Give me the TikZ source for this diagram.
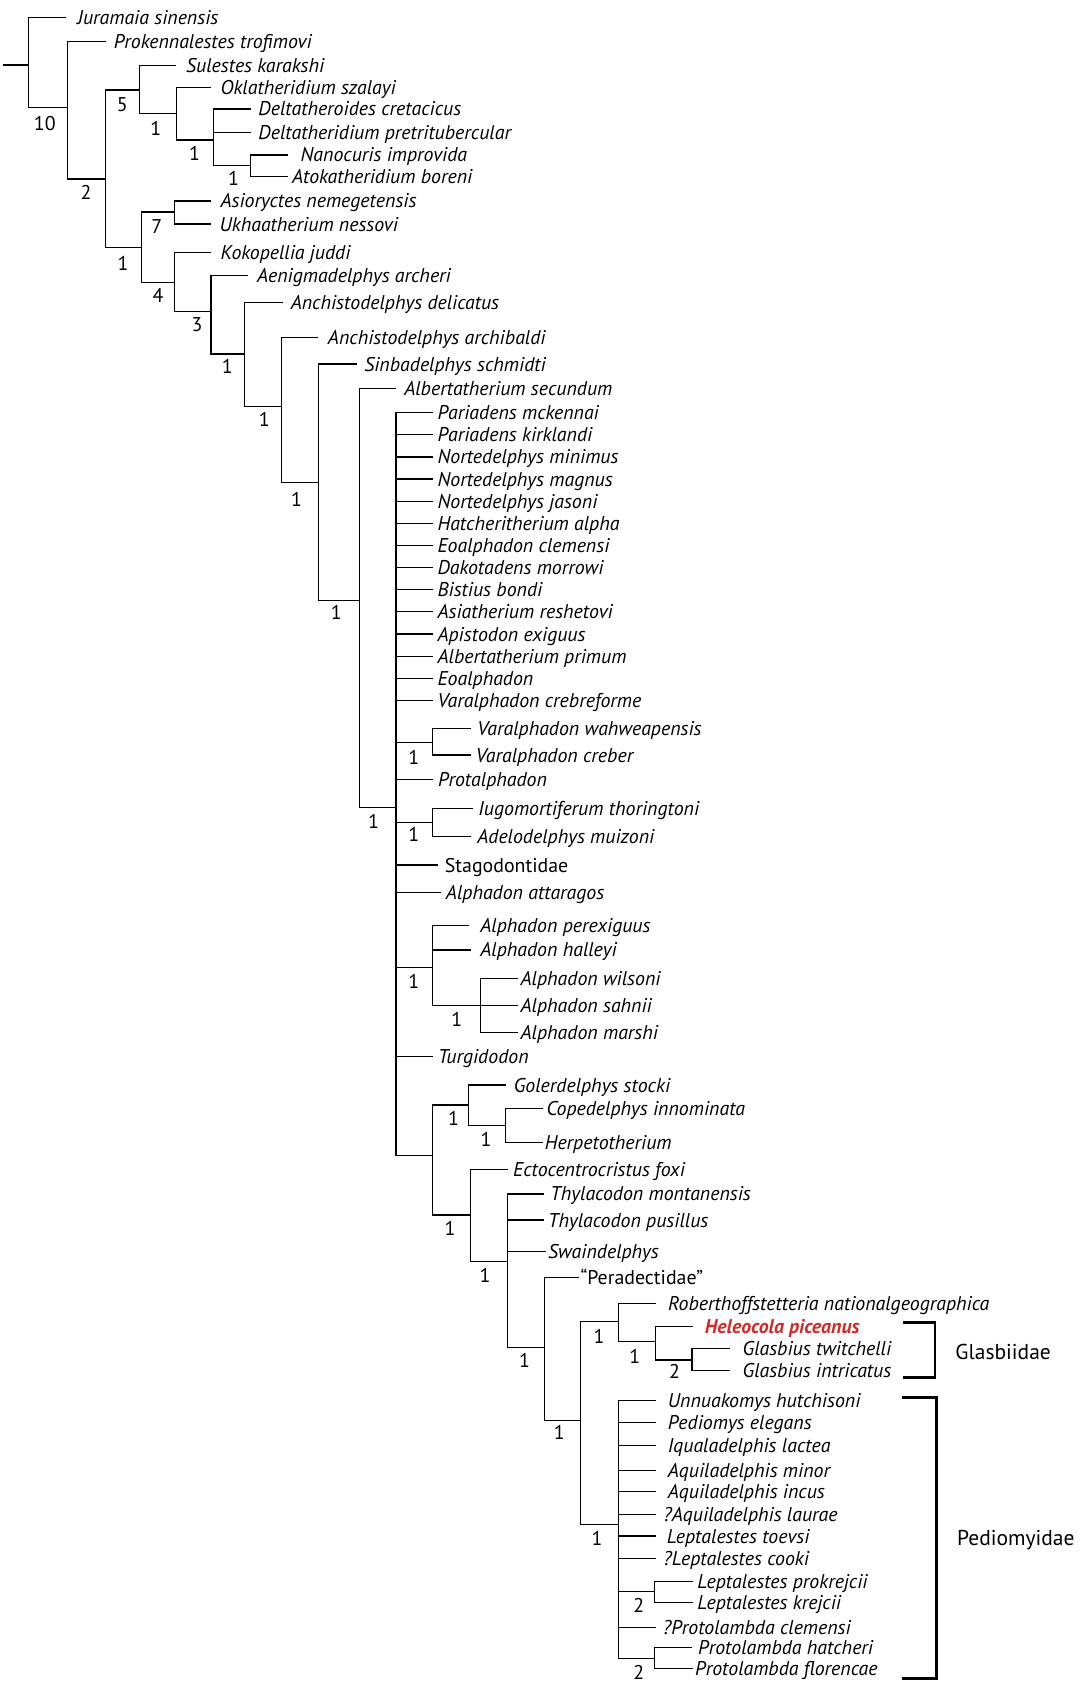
\documentclass[tikz,border=0pt]{standalone}
\usepackage{fontspec}
\setmainfont{PT Sans}
\definecolor{heleo}{RGB}{214,40,40}
\tikzset{
 br/.style={line width=1.1pt, line cap=rect, line join=miter},
 leaf/.style={anchor=west, inner ysep=0pt, text height=13pt, text depth=0pt, font=\fontsize{18.5}{21}\selectfont\itshape},
 leafup/.style={leaf, font=\fontsize{18.5}{21}\selectfont\upshape},
 supp/.style={inner sep=0pt, text height=13pt, text depth=0pt, font=\fontsize{18.5}{21}\selectfont},
 cladebr/.style={line width=2.6pt, line join=miter},
 cladelab/.style={anchor=west, inner sep=0pt, text height=14pt, text depth=0pt, font=\fontsize{20}{22}\selectfont}
}
\begin{document}
\begin{tikzpicture}[x=1pt,y=-1pt]
\useasboundingbox (0,0) rectangle (1005,1568);
% internal nodes
\coordinate (stub) at (3.8,60.5);
\coordinate (root) at (26.3,60.5);
\coordinate (B) at (62.5,99.9);
\coordinate (C) at (97.8,166.6);
\coordinate (D) at (129.8,83.8);
\coordinate (E) at (164.4,105.5);
\coordinate (F) at (198.7,130.3);
\coordinate (G) at (233.3,154.2);
\coordinate (H) at (132,230.5);
\coordinate (As) at (162.5,197.3);
\coordinate (I) at (162.6,263);
\coordinate (J) at (196.4,290);
\coordinate (K) at (227.9,329.5);
\coordinate (L) at (262,378.5);
\coordinate (M) at (296,448.9);
\coordinate (N) at (334.3,559);
\coordinate (O) at (368.5,751.3);
\coordinate (Va) at (402.6,691);
\coordinate (Iu) at (402.6,765.5);
\coordinate (Al) at (402.6,900.5);
\coordinate (Aw) at (446.8,936);
\coordinate (P) at (402.8,1075);
\coordinate (Q) at (436.3,1028.3);
\coordinate (R) at (470.6,1047);
\coordinate (S) at (437.5,1130.7);
\coordinate (T) at (472.1,1174);
\coordinate (U) at (506.8,1253.8);
\coordinate (V) at (540.4,1322);
\coordinate (W) at (575.7,1230);
\coordinate (X) at (610.3,1248.6);
\coordinate (Y) at (644,1265.6);
\coordinate (Z) at (575.5,1419);
\coordinate (Lp) at (609.2,1481.2);
\coordinate (Pr) at (609.2,1543.2);
% leaves
\node[leaf,inner xsep=11pt] (jur) at (60.9,16.4) {Juramaia sinensis};
\node[leaf,inner xsep=8pt] (pro) at (97.8,38.8) {Prokennalestes trofimovi};
\node[leaf,inner xsep=9.5pt] (sul) at (163.5,61.1) {Sulestes karakshi};
\node[leaf,inner xsep=9.6pt] (okl) at (195.5,81.6) {Oklatheridium szalayi};
\node[leaf,inner xsep=7pt] (dcr) at (233.3,101.4) {Deltatheroides cretacicus};
\node[leaf,inner xsep=7pt] (dpr) at (233.3,123.5) {Deltatheridium pretritubercular};
\node[leaf,inner xsep=12pt] (nan) at (267.6,144.2) {Nanocuris improvida};
\node[leaf,inner xsep=4pt] (ato) at (267.6,164.4) {Atokatheridium boreni};
\node[leaf,inner xsep=9.6pt] (asi) at (195.5,187) {Asioryctes nemegetensis};
\node[leaf,inner xsep=8.7pt] (ukh) at (195.5,208.5) {Ukhaatherium nessovi};
\node[leaf,inner xsep=9.6pt] (kok) at (195.5,234.8) {Kokopellia juddi};
\node[leaf,inner xsep=8.5pt] (aen) at (230.5,256.6) {Aenigmadelphys archeri};
\node[leaf,inner xsep=7.6pt] (and) at (262.8,281.4) {Anchistodelphys delicatus};
\node[leaf,inner xsep=9.5pt] (ana) at (295.5,314.3) {Anchistodelphys archibaldi};
\node[leaf,inner xsep=7.2pt] (sin) at (331.6,338.8) {Sinbadelphys schmidti};
\node[leaf,inner xsep=8.4pt] (als) at (367.6,361.4) {Albertatherium secundum};
\foreach \n/\yy/\t in {o1/384.0/Pariadens mckennai, o2/404.6/Pariadens kirklandi, o3/425.2/Nortedelphys minimus, o4/445.8/Nortedelphys magnus, o5/466.4/Nortedelphys jasoni, o6/487.0/Hatcheritherium alpha, o7/507.6/Eoalphadon clemensi, o8/528.2/Dakotadens morrowi, o9/548.8/Bistius bondi, o10/569.4/Asiatherium reshetovi, o11/590.0/Apistodon exiguus, o12/610.6/Albertatherium primum, o13/631.2/Eoalphadon, o14/651.8/Varalphadon crebreforme}
  {\node[leaf,inner xsep=5pt] (\n) at (402,\yy) {\t};}
\node[leaf,inner xsep=6.2pt] (vwa) at (437.8,677.8) {Varalphadon wahweapensis};
\node[leaf,inner xsep=4.8pt] (vcr) at (437.8,702.6) {Varalphadon creber};
\node[leaf,inner xsep=4.8pt] (ptl) at (402.6,725) {Protalphadon};
\node[leaf,inner xsep=5.5pt] (iug) at (439.5,752) {Iugomortiferum thoringtoni};
\node[leaf,inner xsep=6.2pt] (ade) at (437.8,778.6) {Adelodelphys muizoni};
\node[leafup,inner xsep=6.4pt] (sta) at (407.4,805) {Stagodontidae};
\node[leaf,inner xsep=5.1pt] (aat) at (409.7,830.7) {Alphadon attaragos};
\node[leaf,inner xsep=10.5pt] (ape) at (436.3,861.4) {Alphadon perexiguus};
\node[leaf,inner xsep=8.9pt] (aha) at (437.9,884) {Alphadon halleyi};
\node[leaf,inner xsep=3.2pt] (awi) at (481.1,910.4) {Alphadon wilsoni};
\node[leaf,inner xsep=3.2pt] (asa) at (481.1,936) {Alphadon sahnii};
\node[leaf,inner xsep=3.2pt] (ama) at (481.1,961) {Alphadon marshi};
\node[leaf,inner xsep=4.8pt] (tur) at (402.6,983.3) {Turgidodon};
\node[leaf,inner xsep=8pt] (gol) at (470,1009.7) {Golerdelphys stocki};
\node[leaf,inner xsep=3.2pt] (cop) at (505.2,1031.4) {Copedelphys innominata};
\node[leaf,inner xsep=1.6pt] (her) at (505.2,1063.4) {Herpetotherium};
\node[leaf,inner xsep=5.3pt] (ect) at (472,1088.2) {Ectocentrocristus foxi};
\node[leaf,inner xsep=6.5pt] (tmo) at (505.5,1111) {Thylacodon montanensis};
\node[leaf,inner xsep=4.3pt] (tpu) at (505.5,1135.3) {Thylacodon pusillus};
\node[leaf,inner xsep=2.2pt] (swa) at (507.6,1164.8) {Swaindelphys};
\node[leafup,inner xsep=2pt] (per) at (538,1189) {“Peradectidae”};
\node[leaf,inner xsep=11.3pt] (rob) at (610.3,1213) {Roberthoffstetteria nationalgeographica};
\node[leaf,inner xsep=11.8pt,text=heleo,font=\fontsize{18.5}{21}\selectfont\bfseries\itshape] (hel) at (644,1234) {Heleocola piceanus};
\node[leaf,inner xsep=12.1pt] (gtw) at (678.8,1254.8) {Glasbius twitchelli};
\node[leaf,inner xsep=12.1pt] (gin) at (678.8,1275) {Glasbius intricatus};
\node[leaf,inner xsep=11.4pt] (unn) at (609.9,1303.4) {Unnuakomys hutchisoni};
\node[leaf,inner xsep=11.4pt] (ped) at (609.9,1323.9) {Pediomys elegans};
\node[leaf,inner xsep=11.4pt] (iqu) at (609.9,1345.3) {Iqualadelphis lactea};
\node[leaf,inner xsep=11.4pt] (aqm) at (609.9,1368) {Aquiladelphis minor};
\node[leaf,inner xsep=11.4pt] (aqi) at (609.9,1388) {Aquiladelphis incus};
\node[leaf,inner xsep=7.5pt] (aql) at (609.9,1409) {?Aquiladelphis laurae};
\node[leaf,inner xsep=10.4pt] (lto) at (609.9,1429.4) {Leptalestes toevsi};
\node[leaf,inner xsep=7.5pt] (lco) at (609.9,1450.2) {?Leptalestes cooki};
\node[leaf,inner xsep=4.5pt] (lpk) at (644.3,1471.9) {Leptalestes prokrejcii};
\node[leaf,inner xsep=4.5pt] (lkr) at (644.3,1491.4) {Leptalestes krejcii};
\node[leaf,inner xsep=6.9pt] (pcl) at (609.9,1514.7) {?Protolambda clemensi};
\node[leaf,inner xsep=5.9pt] (pha) at (643.6,1533) {Protolambda hatcheri};
\node[leaf,inner xsep=2.4pt] (pfl) at (644.3,1552.5) {Protolambda florencae};
% branches, drawn as one path so overlaps are stroked once
\draw[br] (stub) -- (root)
  foreach \a/\b in {root/jur.west, root/B, B/pro.west, B/C, C/D, C/H, D/sul.west, D/E, E/okl.west, E/F,
  F/dcr.west, F/dpr.west, F/G, G/nan.west, G/ato.west, H/As, H/I, As/asi.west, As/ukh.west,
  I/kok.west, I/J, J/aen.west, J/K, K/and.west, K/L, L/ana.west, L/M, M/sin.west, M/N,
  N/als.west, N/O, O/Va, O/ptl.west, O/Iu, O/sta.west, O/aat.west, O/Al, O/tur.west, O/P,
  Va/vwa.west, Va/vcr.west, Iu/iug.west, Iu/ade.west, Al/ape.west, Al/aha.west, Al/Aw,
  Aw/awi.west, Aw/asa.west, Aw/ama.west, P/Q, P/S, Q/gol.west, Q/R, R/cop.west, R/her.west,
  S/ect.west, S/T, T/tmo.west, T/tpu.west, T/swa.west, T/U, U/per.west, U/V, V/W, V/Z,
  W/rob.west, W/X, X/hel.west, X/Y, Y/gtw.west, Y/gin.west,
  Z/unn.west, Z/ped.west, Z/iqu.west, Z/aqm.west, Z/aqi.west, Z/aql.west, Z/lto.west, Z/lco.west,
  Z/Lp, Z/pcl.west, Z/Pr, Lp/lpk.west, Lp/lkr.west, Pr/pha.west, Pr/pfl.west}
  {(\a) |- (\b)}
  foreach \k in {1,...,14} {(O) |- (o\k.west)};
% support values
\node[supp] (sB) at (41.7,114.8) {10};
\node[supp] (sC) at (80.1,179.3) {2};
\node[supp] (sD) at (113.8,96.8) {5};
\node[supp] (sE) at (144.9,119.4) {1};
\node[supp] (sF) at (181.1,143.3) {1};
\node[supp] (sG) at (217.3,166) {1};
\node[supp] (sH) at (114.4,245) {1};
\node[supp] (sAs) at (145.8,211) {7};
\node[supp] (sI) at (147,274.6) {4};
\node[supp] (sJ) at (183.4,302) {3};
\node[supp] (sK) at (211.5,340.6) {1};
\node[supp] (sL) at (246,390.3) {1};
\node[supp] (sM) at (276,464.7) {1};
\node[supp] (sN) at (312.9,570) {1};
\node[supp] (sO) at (347.5,764.6) {1};
\node[supp] (sVa) at (385,704.7) {1};
\node[supp] (sIu) at (385,777) {1};
\node[supp] (sAl) at (385,913.5) {1};
\node[supp] (sAw) at (425,949) {1};
\node[supp] (sQ) at (422,1040.7) {1};
\node[supp] (sR) at (452.3,1060) {1};
\node[supp] (sS) at (418.8,1143) {1};
\node[supp] (sT) at (451.3,1186.5) {1};
\node[supp] (sU) at (488,1265.6) {1};
\node[supp] (sV) at (520.4,1333) {1};
\node[supp] (sW) at (557.5,1244) {1};
\node[supp] (sX) at (590.8,1262.5) {1};
\node[supp] (sY) at (627.6,1276) {2};
\node[supp] (sZ) at (555.5,1431.5) {1};
\node[supp] (sLp) at (594.4,1493.6) {2};
\node[supp] (sPr) at (594.4,1556.5) {2};
% clade brackets
\coordinate (g1) at (840,1231); \coordinate (g2) at (870,1231);
\coordinate (g3) at (870,1282); \coordinate (g4) at (840,1282);
\draw[cladebr] (g1) -- (g2) -- (g3) -- (g4);
\node[cladelab] (glas) at (888.9,1258.5) {Glasbiidae};
\coordinate (p1) at (839,1300.4); \coordinate (p2) at (871.6,1300.4);
\coordinate (p3) at (871.6,1561.8); \coordinate (p4) at (839,1561.8);
\draw[cladebr] (p1) -- (p2) -- (p3) -- (p4);
\node[cladelab] (pedi) at (890.5,1431.5) {Pediomyidae};
\end{tikzpicture}
\end{document}
